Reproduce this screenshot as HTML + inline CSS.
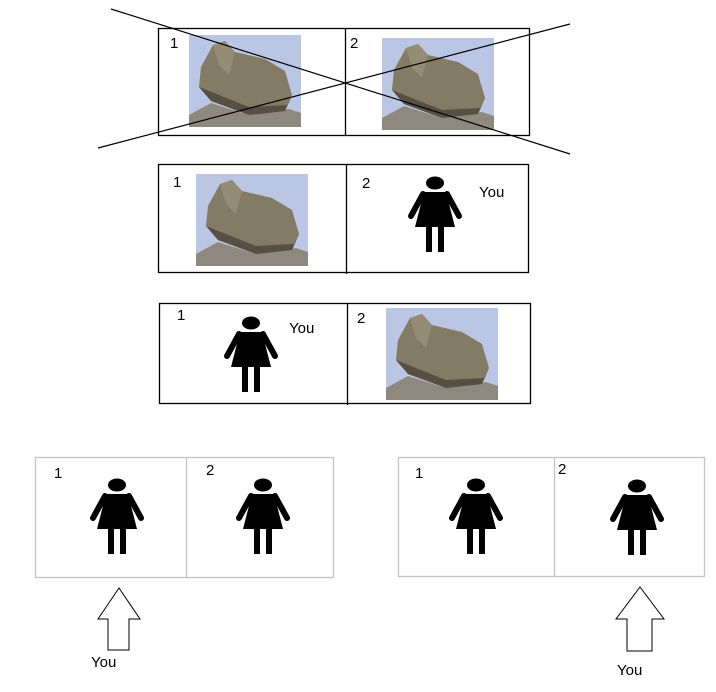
<!DOCTYPE html>
<html><head><meta charset="utf-8"><style>
html,body{margin:0;padding:0;background:#fff;width:716px;height:692px;overflow:hidden}
text{font-family:"Liberation Sans",sans-serif;font-size:15px}
</style></head><body>
<svg width="716" height="692" viewBox="0 0 716 692" xmlns="http://www.w3.org/2000/svg">
<defs>
<g id="rock">
<rect x="0" y="0" width="112" height="92" fill="#bac6e4"/>
<polygon points="0,80 22,68 60,80 100,74 112,78 112,92 0,92" fill="#8e897e"/>
<polygon points="12,32 24,10 36,6 46,17 76,24 96,36 103,60 96,76 60,80 22,66 10,52" fill="#847b66"/>
<polygon points="10,52 22,66 60,80 96,76 103,60 98,70 60,72 25,58" fill="#574f41"/>
<polygon points="24,10 36,6 46,17 40,40 30,30" fill="#958c76"/>
</g>
<g id="p">
<ellipse cx="0" cy="0" rx="9" ry="6.5" fill="#000"/>
<polygon points="-11,9 11,9 20,44 -20,44" fill="#000"/>
<line x1="-12" y1="11" x2="-24" y2="33" stroke="#000" stroke-width="6" stroke-linecap="round"/>
<line x1="12" y1="11" x2="24" y2="33" stroke="#000" stroke-width="6" stroke-linecap="round"/>
<rect x="-9" y="42" width="6" height="27" fill="#000"/>
<rect x="3" y="42" width="6" height="27" fill="#000"/>
</g>
</defs>
<g fill="none" stroke="#000" stroke-width="1.3">
<rect x="158.5" y="28.5" width="371" height="107"/><line x1="345.5" y1="28" x2="345.5" y2="135"/>
<rect x="158.5" y="164.5" width="370" height="108"/><line x1="346.5" y1="164" x2="346.5" y2="274"/>
<rect x="159.5" y="303.5" width="371" height="100"/><line x1="347.5" y1="303" x2="347.5" y2="405"/>
</g>
<use href="#rock" x="189" y="35"/>
<use href="#rock" x="382" y="38"/>
<use href="#rock" x="196" y="174"/>
<use href="#rock" x="386" y="308"/>
<line x1="111" y1="9" x2="570" y2="154" stroke="#000" stroke-width="1.2"/>
<line x1="98" y1="148" x2="570" y2="24" stroke="#000" stroke-width="1.2"/>
<g fill="none" stroke="#c4c4c4" stroke-width="1.3">
<rect x="35.5" y="457.5" width="298" height="120"/><line x1="186.5" y1="457" x2="186.5" y2="577"/>
<rect x="398.5" y="457.5" width="306" height="119"/><line x1="554.5" y1="457" x2="554.5" y2="576"/>
</g>
<use href="#p" x="435" y="183"/>
<use href="#p" x="251" y="323"/>
<use href="#p" x="117" y="485"/>
<use href="#p" x="263" y="485"/>
<use href="#p" x="476" y="485"/>
<use href="#p" x="637" y="486"/>
<g fill="#fff" stroke="#000" stroke-width="1">
<polygon points="119,588 140,619 129,619 129,650 108,650 108,619 98,619"/>
<polygon points="640,587 664,619 652,619 652,651 627,651 627,619 616,619"/>
</g>
<g fill="#000">
<text x="170" y="48">1</text><text x="350" y="48">2</text>
<text x="173" y="187">1</text><text x="362" y="188">2</text><text x="479" y="197">You</text>
<text x="177" y="320">1</text><text x="357" y="323">2</text><text x="289" y="333">You</text>
<text x="54" y="478">1</text><text x="206" y="475">2</text>
<text x="415" y="478">1</text><text x="558" y="474">2</text>
<text x="91" y="667">You</text><text x="617" y="675">You</text>
</g>
</svg>
</body></html>
